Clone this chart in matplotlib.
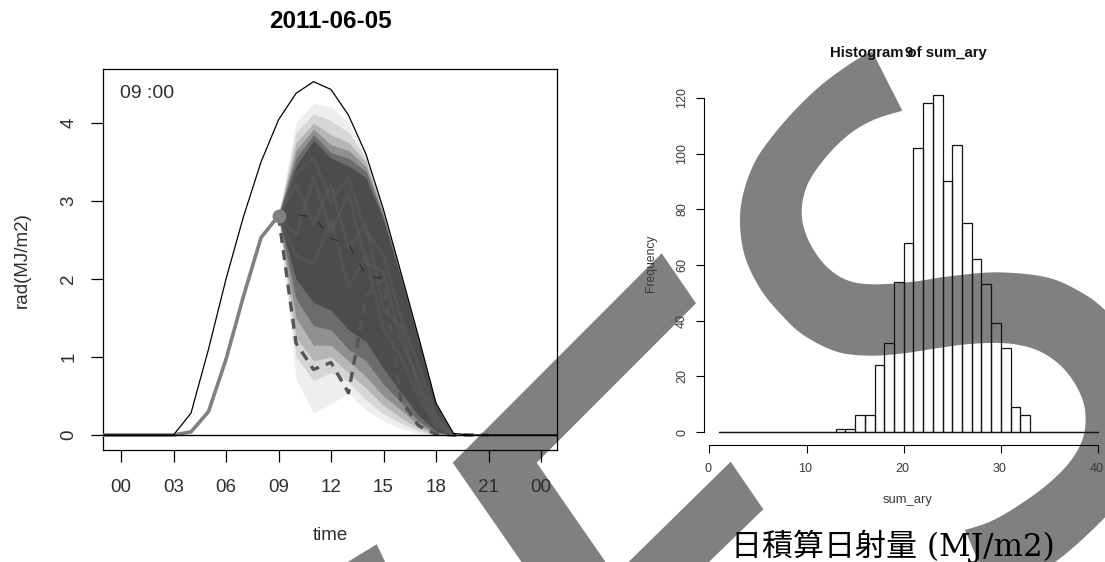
import numpy as np
import matplotlib
matplotlib.use("Agg")
import matplotlib.pyplot as plt
from matplotlib.patches import Polygon

W, H = 1105, 562

# left panel, values
hours = [-1, 0, 1, 2, 3, 4, 5, 6, 7, 8, 9, 10, 11, 12, 13, 14, 15, 16, 17, 18, 19, 20, 21, 22, 23, 24, 25]
clear_sky = [0, 0, 0, 0, 0, 0.28, 1.1, 2.0, 2.8, 3.5, 4.04, 4.38, 4.53, 4.43, 4.1, 3.6, 2.89, 2.08, 1.26, 0.41, 0.02, 0, 0, 0, 0, 0, 0]
obs_hours = [-1, 0, 1, 2, 3, 4, 5, 6, 7, 8, 9]
obs_rad = [0, 0, 0, 0, 0, 0.04, 0.3, 0.97, 1.78, 2.53, 2.81]
real_hours = [9, 10, 11, 12, 13, 14, 15, 16, 17, 18, 19, 20, 21]
real_rad = [2.81, 1.18, 0.84, 0.93, 0.54, 1.78, 2.0, 0.45, 0.12, 0.01, 0, 0, 0]
mean_hours = [9, 10, 11, 12, 13, 14, 15]
mean_rad = [2.81, 2.82, 2.8, 2.52, 2.45, 2.05, 2.0]

# fan of the simulated runs, lightest shade first
fan_hours = [9, 10, 11, 12, 13, 14, 15, 16, 17, 18, 19]
top_6 = [2.81, 4.0, 4.25, 4.21, 4.0, 3.58, 2.88, 2.07, 1.25, 0.4, 0]
top_5 = [2.81, 3.88, 4.12, 4.03, 3.88, 3.55, 2.87, 2.07, 1.25, 0.4, 0]
top_4 = [2.81, 3.75, 4.0, 3.85, 3.75, 3.5, 2.85, 2.06, 1.24, 0.4, 0]
top_3 = [2.81, 3.65, 3.92, 3.72, 3.65, 3.44, 2.83, 2.05, 1.23, 0.39, 0]
top_2 = [2.81, 3.55, 3.85, 3.62, 3.55, 3.38, 2.8, 2.03, 1.22, 0.39, 0]
top_1 = [2.81, 3.45, 3.78, 3.55, 3.45, 3.3, 2.75, 2.0, 1.2, 0.38, 0]
low_6 = [2.81, 0.72, 0.28, 0.4, 0.54, 0.32, 0.18, 0.08, 0.02, 0, 0]
low_5 = [2.81, 1.0, 0.7, 0.8, 0.68, 0.45, 0.27, 0.15, 0.05, 0, 0]
low_4 = [2.81, 1.25, 0.95, 1.0, 0.8, 0.6, 0.38, 0.22, 0.09, 0.01, 0]
low_3 = [2.81, 1.5, 1.15, 1.15, 0.95, 0.75, 0.5, 0.32, 0.13, 0.02, 0]
low_2 = [2.81, 1.75, 1.4, 1.35, 1.1, 0.95, 0.65, 0.42, 0.18, 0.03, 0]
low_1 = [2.81, 2.0, 1.7, 1.6, 1.35, 1.2, 0.85, 0.55, 0.25, 0.05, 0]
fan_tops = [top_6, top_5, top_4, top_3, top_2, top_1]
fan_lows = [low_6, low_5, low_4, low_3, low_2, low_1]
fan_greys = ["#eeeeee", "#d6d6d6", "#b6b6b6", "#909090", "#6c6c6c", "#4c4c4c"]

# a few single runs, these give the dark part of the fan its streaks
run_a = [2.81, 2.55, 3.3, 2.6, 3.1, 2.2, 2.1, 1.2, 0.7, 0.2, 0]
run_b = [2.81, 3.2, 2.7, 3.2, 2.4, 2.7, 1.6, 1.4, 0.6, 0.15, 0]
run_c = [2.81, 2.3, 2.2, 2.75, 1.9, 2.3, 1.35, 1.0, 0.5, 0.1, 0]
run_d = [2.81, 3.35, 3.55, 3.0, 3.3, 2.6, 2.3, 1.5, 0.9, 0.25, 0]
streak_runs = [run_a, run_b, run_c, run_d]

x_ticks = [0, 3, 6, 9, 12, 15, 18, 21, 24]
x_labels = ["00", "03", "06", "09", "12", "15", "18", "21", "00"]
y_ticks = [0, 1, 2, 3, 4]

# right panel, 1 MJ bins from 1 to 40
bin_left = list(range(1, 40))
counts = [0, 0, 0, 0, 0, 0, 0, 0, 0, 0, 0, 0, 1, 1, 6, 6, 24, 32, 54, 68, 102, 118, 121, 90, 103, 75, 62, 53, 39, 30, 9, 6, 0, 0, 0, 0, 0, 0, 0]
hist_xticks = [0, 10, 20, 30, 40]
hist_yticks = [0, 20, 40, 60, 80, 100, 120]

# watermark outline, in pixels of the 3x crop (730,40)
s_left = [(427, 35), (370, 65), (280, 130), (200, 205), (130, 285), (75, 365), (40, 460), (30, 550), (45, 650),
          (90, 745), (150, 820), (220, 885), (320, 935), (420, 947), (520, 940), (620, 925), (720, 912), (830, 910),
          (920, 930), (990, 975), (1040, 1040), (1065, 1110), (1060, 1190), (1020, 1265), (950, 1335), (860, 1400),
          (780, 1445), (705, 1470)]
s_right = [(760, 1600), (920, 1600), (1125, 1432), (1260, 1250), (1290, 1100), (1250, 940), (1125, 810), (1050, 755),
           (950, 712), (800, 697), (650, 710), (550, 725), (430, 733), (350, 720), (285, 675), (235, 600),
           (215, 520), (232, 435), (285, 355), (355, 285), (430, 240), (517, 212)]
band_a = [(661.7, 253.3), (696, 303.3), (536.7, 462.7), (625, 590), (541, 590), (452.7, 462.7)]
band_b = [(730.7, 461.7), (763.3, 509.3), (680, 590), (600, 590)]
band_c = [(376.7, 544.3), (396, 585), (320, 585), (346, 563)]


def smooth(points, n=12):
    # catmull-rom through the outline points
    p = np.array(points, dtype=float)
    p = np.vstack([p[0], p, p[-1]])
    out = []
    for i in range(1, len(p) - 2):
        for t in np.linspace(0, 1, n, endpoint=False):
            out.append(0.5 * (2 * p[i] + (p[i + 1] - p[i - 1]) * t
                              + (2 * p[i - 1] - 5 * p[i] + 4 * p[i + 1] - p[i + 2]) * t ** 2
                              + (3 * p[i] - p[i - 1] - 3 * p[i + 1] + p[i + 2]) * t ** 3))
    out.append(p[-2])
    return np.array(out)


def px_axes(fig, left, right, top, bottom):
    return fig.add_axes([left / W, 1 - bottom / H, (right - left) / W, (bottom - top) / H])


def label(fig, x, y, s, **kw):
    kw.setdefault("color", "#2e2e2e")
    kw.setdefault("family", "Liberation Sans")
    fig.text(x / W, 1 - y / H, s, ha="center", va="center", **kw)


fig = plt.figure(figsize=(W / 100, H / 100), dpi=100, facecolor="white")

# watermark goes under everything, the axes above it are see through
bg = fig.add_axes([0, 0, 1, 1], zorder=0)
bg.set_xlim(0, W)
bg.set_ylim(H, 0)
bg.axis("off")
s_pts = np.vstack([smooth(s_left), smooth(s_right)]) / 3 + [730, 40]
for shape in [s_pts, band_a, band_b, band_c]:
    bg.add_patch(Polygon(shape, closed=True, fc="#808080", ec="none"))

# left panel
ax = px_axes(fig, 103, 557, 69, 450)
ax.set_zorder(1)
ax.patch.set_visible(False)
ax.set_xlim((103 - 121) / 17.5, (557 - 121) / 17.5)
ax.set_ylim((435 - 450) / 78, (435 - 69) / 78)

for low, top, grey in zip(fan_lows, fan_tops, fan_greys):
    ax.fill_between(fan_hours, low, top, color=grey, lw=0)
for run in streak_runs:
    ax.plot(fan_hours, run, color="#707070", lw=2.5, alpha=0.2)

ax.plot(mean_hours, mean_rad, color="#303030", lw=1, ls=(0, (6, 9)))
ax.plot(real_hours, real_rad, color="#555555", lw=2.4, ls=(0, (3, 2.2)))
ax.plot(obs_hours, obs_rad, color="#808080", lw=2.6, zorder=3)
ax.axhline(0, color="black", lw=1, zorder=5)
ax.plot(hours, clear_sky, color="black", lw=0.9, zorder=5)
ax.plot(obs_hours[-1], obs_rad[-1], "o", color="#808080", ms=10, mec="none", zorder=6)

ax.set_xticks(x_ticks)
ax.set_xticklabels([])
ax.set_yticks(y_ticks)
ax.set_yticklabels([])
ax.tick_params(length=8.5, width=0.9)
for sp in ax.spines.values():
    sp.set_linewidth(0.9)

for t, s in zip(x_ticks, x_labels):
    label(fig, 121 + t * 17.5, 487, s, fontsize=13.5)
for v in y_ticks:
    label(fig, 69, 435 - v * 78, str(v), fontsize=13.5, rotation=90)
label(fig, 330, 22, "2011-06-05", fontsize=17.5, weight="bold", color="black")
label(fig, 330, 536, "time", fontsize=13.5)
label(fig, 22, 260, "rad(MJ/m2)", fontsize=13.5, rotation=90)
label(fig, 147, 93, "09 :00", fontsize=14)

# right panel
ah = px_axes(fig, 704.3, W, 60, 445.3)
ah.set_zorder(1)
ah.patch.set_visible(False)
ah.set_xlim((704.3 - 709.3) / 9.72, (W - 709.3) / 9.72)
ah.set_ylim((432 - 445.3) / 2.785, (432 - 60) / 2.785)
ah.bar(bin_left, counts, width=1, align="edge", fc="none", ec="#141414", lw=0.9)
ah.plot([bin_left[0], bin_left[-1] + 1], [0, 0], color="#141414", lw=0.9)
ah.spines["top"].set_visible(False)
ah.spines["right"].set_visible(False)
ah.spines["left"].set_bounds(0, 120)
ah.spines["bottom"].set_bounds(0, 40)
ah.set_xticks(hist_xticks)
ah.set_yticks(hist_yticks)
ah.set_xticklabels([])
ah.set_yticklabels([])
ah.tick_params(length=6, width=0.8)
for sp in ah.spines.values():
    sp.set_linewidth(0.8)

for t in hist_xticks:
    label(fig, 709.3 + t * 9.72 - 1, 469, str(t), fontsize=9, color="#3a3a3a")
for v in hist_yticks:
    label(fig, 682, 432 - v * 2.785, str(v), fontsize=9, rotation=90, color="#3a3a3a")
label(fig, 908, 53, "Histogram of sum_ary", fontsize=10.7, weight="bold", color="#111111")
label(fig, 909, 53, "9", fontsize=10.7, weight="bold", color="#111111")
label(fig, 908, 500, "sum_ary", fontsize=9.4, color="#3a3a3a")
label(fig, 651, 263, "Frequency", fontsize=8.7, rotation=90, color="#3a3a3a")
label(fig, 893, 546, "日積算日射量 (MJ/m2)", fontsize=22.3, color="black",
      family=["DejaVu Serif", "Noto Sans CJK JP"])

fig.savefig("out.png", dpi=100)
